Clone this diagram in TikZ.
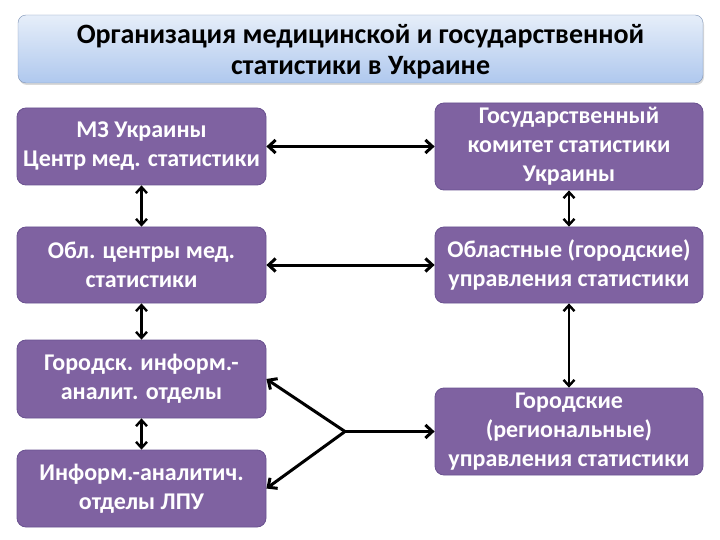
\documentclass[tikz,border=0pt]{standalone}
\usepackage{fontspec}
\setmainfont{Carlito}
\usetikzlibrary{arrows.meta,shadows}

\definecolor{boxviolet}{HTML}{7F62A1}
\definecolor{boxedge}{HTML}{6A5290}
\definecolor{titletop}{HTML}{E6EEF9}
\definecolor{titlebot}{HTML}{AFC8EE}
\definecolor{titleedge}{HTML}{7E93B5}

\tikzset{
  orgbox/.style={draw=boxedge, fill=boxviolet, rounded corners=9pt, line width=0.8pt,
    text=white, align=center, inner sep=1pt, font=\bfseries\fontsize{24}{29}\selectfont},
  leftbox/.style={orgbox, minimum width=249pt},
  rightbox/.style={orgbox, minimum width=268pt},
  link/.style={line width=3pt, {Straight Barb[length=7pt,width=13pt]}-{Straight Barb[length=7pt,width=13pt]}},
  vlink/.style={line width=2.4pt, {Straight Barb[length=6pt,width=11pt]}-{Straight Barb[length=6pt,width=11pt]}},
  onelink/.style={line width=3pt, -{Straight Barb[length=7pt,width=13pt]}},
}

\begin{document}
\begin{tikzpicture}[x=1pt, y=-1pt]
\useasboundingbox (0,0) rectangle (720,540);

% Заголовок
\node[draw=titleedge, top color=titletop, bottom color=titlebot, rounded corners=8pt,
  drop shadow={shadow xshift=1pt, shadow yshift=-2pt, opacity=0.3},
  minimum width=685pt, minimum height=68pt] (titlebox) at (360.5,49) {};
\node[align=center, font=\bfseries\fontsize{28}{31}\selectfont] (title) at (360.5,52)
  {Организация медицинской и государственной\\статистики в Украине};

% Левая колонка
\node[leftbox, minimum height=77pt] (mz) at (141.5,146.5) {МЗ Украины\\Центр мед. статистики};
\node[leftbox, minimum height=76pt] (obl) at (141.5,265) {Обл. центры мед.\\статистики};
\node[leftbox, minimum height=78pt] (gor) at (141.5,379) {Городск. информ.-\\аналит. отделы};
\node[leftbox, minimum height=77pt] (lpu) at (141.5,488.5) {Информ.-аналитич.\\отделы ЛПУ};

% Правая колонка
\node[rightbox, minimum height=87pt] (gks) at (569,146.5) {Государственный\\комитет статистики\\Украины};
\node[rightbox, minimum height=76pt] (oblu) at (569,265) {Областные (городские)\\управления статистики};
\node[rightbox, minimum height=87pt] (goru) at (569,431.5) {Городские\\(региональные)\\управления статистики};

% Связи
\draw[link] (mz) -- (gks);
\draw[link] (obl) -- (oblu);
\draw[vlink] (mz.south) -- (obl.north);
\draw[vlink] (obl.south) -- (gor.north);
\draw[vlink] (gor.south) -- (lpu.north);
\draw[vlink] (gks.south) -- (oblu.north);
\draw[vlink] (oblu.south) -- (goru.north);

\coordinate (fork) at (345,431.5);
\draw[onelink] (fork) -- (goru.west);
\draw[onelink] (fork) -- (gor.east);
\draw[onelink] (fork) -- (lpu.east);
\end{tikzpicture}
\end{document}
